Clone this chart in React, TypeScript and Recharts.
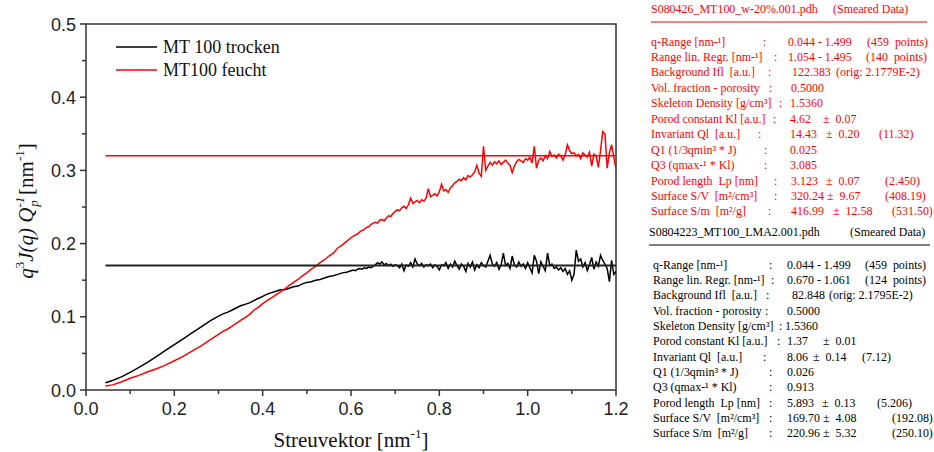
import React from "react";
import { LineChart, Line, XAxis, YAxis, ReferenceArea, ReferenceLine, Legend } from "recharts";

// q grid (nm^-1)
const Q = [
  0.044, 0.06, 0.08, 0.1, 0.12, 0.14, 0.16, 0.18, 0.2, 0.22, 0.24, 0.26, 0.28, 0.3,
  0.31, 0.32, 0.33, 0.34, 0.35, 0.36, 0.37, 0.38, 0.39, 0.4,
  0.41, 0.42, 0.43, 0.44, 0.45, 0.46, 0.47, 0.48, 0.49, 0.5,
  0.51, 0.52, 0.53, 0.54, 0.55, 0.56, 0.57, 0.58, 0.59, 0.6,
  0.605, 0.61, 0.615, 0.62, 0.625, 0.63, 0.635, 0.64, 0.645, 0.65,
  0.655, 0.66, 0.665, 0.67, 0.675, 0.68, 0.685, 0.69, 0.695, 0.7,
  0.705, 0.71, 0.715, 0.72, 0.725, 0.73, 0.735, 0.74, 0.745, 0.75,
  0.755, 0.76, 0.765, 0.77, 0.775, 0.78, 0.785, 0.79, 0.795, 0.8,
  0.805, 0.81, 0.815, 0.82, 0.825, 0.83, 0.835, 0.84, 0.845, 0.85,
  0.855, 0.86, 0.865, 0.87, 0.875, 0.88, 0.885, 0.89, 0.895, 0.9,
  0.905, 0.91, 0.915, 0.92, 0.925, 0.93, 0.935, 0.94, 0.945, 0.95,
  0.955, 0.96, 0.965, 0.97, 0.975, 0.98, 0.985, 0.99, 0.995, 1.0,
  1.005, 1.01, 1.015, 1.02, 1.025, 1.03, 1.035, 1.04, 1.045, 1.05,
  1.055, 1.06, 1.065, 1.07, 1.075, 1.08, 1.085, 1.09, 1.095, 1.1,
  1.105, 1.11, 1.115, 1.12, 1.125, 1.13, 1.135, 1.14, 1.145, 1.15,
  1.155, 1.16, 1.165, 1.17, 1.175, 1.18, 1.185, 1.19, 1.195, 1.2,
];

// MT 100 trocken
const TROCKEN = [
  0.01, 0.013, 0.018, 0.024, 0.031, 0.038, 0.046, 0.054, 0.062, 0.07, 0.078, 0.086, 0.094, 0.101,
  0.104, 0.106, 0.109, 0.112, 0.115, 0.117, 0.119, 0.122, 0.125, 0.128,
  0.131, 0.133, 0.135, 0.137, 0.137, 0.139, 0.141, 0.142, 0.145, 0.147,
  0.148, 0.15, 0.151, 0.153, 0.155, 0.156, 0.158, 0.16, 0.161, 0.163,
  0.164, 0.163, 0.165, 0.166, 0.165, 0.167, 0.166, 0.168, 0.167, 0.169,
  0.171, 0.174, 0.172, 0.175, 0.171, 0.173, 0.17, 0.172, 0.169, 0.171,
  0.17, 0.167, 0.172, 0.163, 0.171, 0.169, 0.174, 0.168, 0.179, 0.172,
  0.17, 0.173, 0.168, 0.171, 0.17, 0.172, 0.167, 0.171, 0.169, 0.164,
  0.171, 0.17, 0.174, 0.166, 0.172, 0.168, 0.176, 0.17, 0.165, 0.172,
  0.169, 0.162, 0.173, 0.168, 0.175, 0.164, 0.171, 0.167, 0.174, 0.17,
  0.168, 0.176, 0.184, 0.172, 0.169, 0.174, 0.165, 0.171, 0.187, 0.17,
  0.173, 0.166, 0.183, 0.171, 0.168, 0.175, 0.169, 0.172, 0.166, 0.174,
  0.167, 0.16, 0.184, 0.176, 0.159, 0.175, 0.169, 0.163, 0.187, 0.17,
  0.172, 0.166, 0.168, 0.164, 0.167, 0.162, 0.166, 0.158, 0.163, 0.15,
  0.158, 0.191, 0.176, 0.179, 0.168, 0.174, 0.163, 0.171, 0.181, 0.165,
  0.175, 0.169, 0.184, 0.177, 0.172, 0.166, 0.148, 0.177, 0.158, 0.162,
];

// MT100 feucht
const FEUCHT = [
  0.0055, 0.007, 0.011, 0.016, 0.02, 0.025, 0.029, 0.034, 0.04, 0.046, 0.053, 0.06, 0.068, 0.076,
  0.08, 0.083, 0.087, 0.091, 0.095, 0.099, 0.103, 0.109, 0.113, 0.118,
  0.122, 0.126, 0.13, 0.134, 0.138, 0.143, 0.147, 0.151, 0.156, 0.16,
  0.165, 0.169, 0.174, 0.178, 0.183, 0.187, 0.194, 0.198, 0.203, 0.208,
  0.21, 0.212, 0.213, 0.216, 0.218, 0.219, 0.222, 0.223, 0.226, 0.228,
  0.229, 0.228, 0.232, 0.233, 0.231, 0.235, 0.238, 0.237, 0.241, 0.244,
  0.246, 0.245, 0.249, 0.251, 0.248, 0.253, 0.262, 0.255, 0.257, 0.259,
  0.256, 0.26, 0.258, 0.262, 0.275, 0.264, 0.266, 0.268, 0.265, 0.271,
  0.281, 0.272, 0.274, 0.27, 0.276, 0.279, 0.283, 0.285, 0.288, 0.286,
  0.29, 0.287, 0.293, 0.291, 0.294, 0.298, 0.307, 0.296, 0.292, 0.333,
  0.3, 0.306, 0.311, 0.307, 0.312, 0.309, 0.313, 0.308, 0.311, 0.314,
  0.31, 0.307, 0.297, 0.306, 0.312, 0.315, 0.313, 0.311, 0.316, 0.314,
  0.318, 0.31, 0.333, 0.303, 0.314, 0.317, 0.313, 0.32, 0.316, 0.326,
  0.319, 0.321, 0.317, 0.322, 0.32, 0.314, 0.322, 0.335, 0.327, 0.323,
  0.324, 0.32, 0.322, 0.316, 0.324, 0.321, 0.318, 0.325, 0.306, 0.322,
  0.32, 0.304, 0.327, 0.353, 0.35, 0.303, 0.324, 0.335, 0.318, 0.302,
];

// Porod plateau levels and fitted q-range
const PLATEAU_TROCKEN = 0.17;
const PLATEAU_FEUCHT = 0.32;
const FIT_RANGE = [0.044, 1.2];

const X_TICKS = [0, 0.1, 0.2, 0.3, 0.4, 0.5, 0.6, 0.7, 0.8, 0.9, 1.0, 1.1, 1.2];
const Y_TICKS = [0, 0.05, 0.1, 0.15, 0.2, 0.25, 0.3, 0.35, 0.4, 0.45, 0.5];

const SAMPLE_A_TITLE = ["S080426_MT100_w-20%.001.pdh", "(Smeared Data)"];
const SAMPLE_A_ROWS = [
  ["q-Range [nm-¹]", ":", "0.044 - 1.499", "", "(459  points)"],
  ["Range lin. Regr. [nm-¹]", ":", "1.054 - 1.495", "", "(140  points)"],
  ["Background Ifl  [a.u.]", ":", "122.383", "", "(orig: 2.1779E-2)"],
  ["Vol. fraction - porosity", ":", "0.5000", "", ""],
  ["Skeleton Density [g/cm³]", ":", "1.5360", "", ""],
  ["Porod constant Kl [a.u.]", ":", "4.62", "±  0.07", ""],
  ["Invariant Ql  [a.u.]", ":", "14.43", "±  0.20", "(11.32)"],
  ["Q1 (1/3qmin³ * J)", ":", "0.025", "", ""],
  ["Q3 (qmax-¹ * Kl)", ":", "3.085", "", ""],
  ["Porod length  Lp [nm]", ":", "3.123", "±  0.07", "(2.450)"],
  ["Surface S/V  [m²/cm³]", ":", "320.24", "±  9.67", "(408.19)"],
  ["Surface S/m  [m²/g]", ":", "416.99", "±  12.58", "(531.50)"],
];

const SAMPLE_B_TITLE = ["S0804223_MT100_LMA2.001.pdh", "(Smeared Data)"];
const SAMPLE_B_ROWS = [
  ["q-Range [nm-¹]", ":", "0.044 - 1.499", "", "(459  points)"],
  ["Range lin. Regr. [nm-¹]", ":", "0.670 - 1.061", "", "(124  points)"],
  ["Background Ifl  [a.u.]", ":", "82.848", "", "(orig: 2.1795E-2)"],
  ["Vol. fraction - porosity", ":", "0.5000", "", ""],
  ["Skeleton Density [g/cm³]", ":", "1.5360", "", ""],
  ["Porod constant Kl [a.u.]", ":", "1.37", "±  0.01", ""],
  ["Invariant Ql  [a.u.]", ":", "8.06", "±  0.14", "(7.12)"],
  ["Q1 (1/3qmin³ * J)", ":", "0.026", "", ""],
  ["Q3 (qmax-¹ * Kl)", ":", "0.913", "", ""],
  ["Porod length  Lp [nm]", ":", "5.893", "±  0.13", "(5.206)"],
  ["Surface S/V  [m²/cm³]", ":", "169.70", "±  4.08", "(192.08)"],
  ["Surface S/m  [m²/g]", ":", "220.96", "±  5.32", "(250.10)"],
];

// column x positions per row: [label, colon, value, ±, paren]
const SAMPLE_A_COLS = [
  [651, 763, 788, 0, 867],
  [651, 774, 788, 0, 866],
  [651, 768, 792, 0, 836],
  [651, 769, 791, 0, 0],
  [651, 779, 790, 0, 0],
  [651, 773, 790, 823, 0],
  [651, 758, 790, 826, 879],
  [651, 764, 790, 0, 0],
  [651, 764, 790, 0, 0],
  [651, 774, 791, 826, 885],
  [651, 774, 791, 827, 885],
  [651, 768, 791, 833, 892],
];
const SAMPLE_B_COLS = [
  [653, 769, 787, 0, 865],
  [653, 771, 787, 0, 865],
  [653, 766, 792, 0, 829],
  [653, 765, 787, 0, 0],
  [653, 779, 785, 0, 0],
  [653, 777, 787, 823, 0],
  [653, 763, 787, 813, 862],
  [653, 769, 787, 0, 0],
  [653, 769, 787, 0, 0],
  [653, 769, 787, 822, 877],
  [653, 769, 787, 823, 892],
  [653, 769, 787, 823, 892],
];

const W = 934;
const H = 452;
const PLOT_LEFT = 86;
const PLOT_RIGHT = 616;
const PLOT_TOP = 24;
const PLOT_BOTTOM = 390;
const AXIS_COLOR = "#333";
const SANS = "'Liberation Sans', Arial, sans-serif";
const SERIF = "'Liberation Serif', 'Times New Roman', serif";

const data = Q.map((q, i) => ({ q, trocken: TROCKEN[i], feucht: FEUCHT[i] }));

function XTick(props: any) {
  const { x, y, payload } = props;
  const v = payload.value as number;
  const major = Math.round(v * 10) % 2 === 0;
  return (
    <g>
      <line x1={x} x2={x} y1={y} y2={y + (major ? 6 : 4)} stroke={AXIS_COLOR} strokeWidth={1.5} />
      {major && (
        <text x={x} y={y + 25} textAnchor="middle" fontFamily={SANS} fontSize={18} fill="#222">
          {v.toFixed(1)}
        </text>
      )}
    </g>
  );
}

function YTick(props: any) {
  const { x, y, payload } = props;
  const v = payload.value as number;
  const major = Math.round(v * 100) % 10 === 0;
  return (
    <g>
      <line x1={x - (major ? 6 : 4)} x2={x} y1={y} y2={y} stroke={AXIS_COLOR} strokeWidth={1.5} />
      {major && (
        <text x={x - 10} y={y + 6.5} textAnchor="end" fontFamily={SANS} fontSize={18} fill="#222">
          {v.toFixed(1)}
        </text>
      )}
    </g>
  );
}

function XTitle() {
  return (
    <text x={351} y={447} textAnchor="middle" fontFamily={SERIF} fontSize={21} fill="#111">
      Streuvektor [nm
      <tspan fontSize={13} dy={-9}>-1</tspan>
      <tspan dy={9}>]</tspan>
    </text>
  );
}

function YTitle() {
  return (
    <text transform="translate(33,211) rotate(-90)" textAnchor="middle" fontFamily={SERIF} fontSize={21} fill="#111">
      <tspan fontStyle="italic">q</tspan>
      <tspan fontSize={13} dy={-9}>3</tspan>
      <tspan fontStyle="italic" dy={9}>J(q) Q</tspan>
      <tspan fontSize={13} fontStyle="italic" dy={-9}>-1</tspan>
      <tspan fontSize={13} fontStyle="italic" dx={-10} dy={14}>p</tspan>
      <tspan dy={-5}> [nm</tspan>
      <tspan fontSize={13} dy={-9}>-1</tspan>
      <tspan dy={9}>]</tspan>
    </text>
  );
}

function LegendBox(props: any) {
  const items = (props.payload || []).filter((p: any) => p.value);
  return (
    <svg width={200} height={50}>
      {items.map((p: any, i: number) => (
        <g key={p.value}>
          <line x1={0} x2={41} y1={11 + i * 23} y2={11 + i * 23} stroke={p.color} strokeWidth={1.5} />
          <text x={47} y={17 + i * 23} fontFamily={SERIF} fontSize={18} fill="#111">
            {p.value}
          </text>
        </g>
      ))}
    </svg>
  );
}

function InfoBlock({
  title,
  titleX,
  rows,
  cols,
  top,
  step,
  color,
  ruleX,
}: {
  title: string[];
  titleX: number[];
  rows: string[][];
  cols: number[][];
  top: number;
  step: number;
  color: string;
  ruleX: number[];
}) {
  const sx = 0.92;
  const cell = (t: string, x: number, y: number, key: string) =>
    t && x ? (
      <text key={key} transform={`translate(${x},${y}) scale(${sx},1)`} fontFamily={SERIF} fontSize={13} fill={color} style={{ whiteSpace: "pre" }} xmlSpace="preserve">
        {t}
      </text>
    ) : null;
  return (
    <g>
      {cell(title[0], titleX[0], top - 28, "t0")}
      {cell(title[1], titleX[1], top - 28, "t1")}
      <line x1={ruleX[0]} x2={ruleX[1]} y1={top - 19} y2={top - 19} stroke={color} strokeWidth={1} />
      {rows.map((r, i) => (
        <g key={i}>{r.map((t, j) => cell(t, cols[i][j], top + 4.5 + i * step, `${i}-${j}`))}</g>
      ))}
    </g>
  );
}

export default function App() {
  return (
    <div style={{ position: "absolute", left: 0, top: 0, width: W, height: H, background: "#fff" }}>
      <LineChart
        width={W}
        height={H}
        data={data}
        margin={{ top: PLOT_TOP, right: W - PLOT_RIGHT, left: PLOT_LEFT - 40, bottom: H - PLOT_BOTTOM - 30 }}
      >
        <XAxis
          dataKey="q"
          type="number"
          domain={[0, 1.2]}
          ticks={X_TICKS}
          interval={0}
          allowDataOverflow
          axisLine={false}
          tickLine={false}
          tickSize={0}
          tickMargin={0}
          height={30}
          tick={<XTick />}
          label={<XTitle />}
        />
        <YAxis
          type="number"
          domain={[0, 0.5]}
          ticks={Y_TICKS}
          interval={0}
          allowDataOverflow
          axisLine={false}
          tickLine={false}
          tickSize={0}
          tickMargin={0}
          width={40}
          tick={<YTick />}
          label={<YTitle />}
        />
        <ReferenceArea x1={0} x2={1.2} y1={0} y2={0.5} fill="none" stroke={AXIS_COLOR} strokeWidth={1.5} ifOverflow="visible" />
        <ReferenceLine
          segment={[{ x: FIT_RANGE[0], y: PLATEAU_FEUCHT }, { x: FIT_RANGE[1], y: PLATEAU_FEUCHT }]}
          stroke="#ff0000"
          strokeWidth={1.5}
        />
        <Line
          dataKey="trocken"
          name="MT 100 trocken"
          stroke="#000"
          strokeWidth={1.5}
          dot={false}
          type="linear"
          isAnimationActive={false}
        />
        <Line
          dataKey="feucht"
          name="MT100 feucht"
          stroke="#ff0000"
          strokeWidth={1.5}
          dot={false}
          type="linear"
          isAnimationActive={false}
        />
        <ReferenceLine
          segment={[{ x: FIT_RANGE[0], y: PLATEAU_TROCKEN }, { x: FIT_RANGE[1], y: PLATEAU_TROCKEN }]}
          stroke="#222"
          strokeWidth={2}
        />
        <Legend
          layout="vertical"
          align="center"
          verticalAlign="middle"
          content={<LegendBox />}
          wrapperStyle={{ left: 116, top: 36, width: 200, height: 50 }}
        />
      </LineChart>
      <svg width={W} height={H} style={{ position: "absolute", left: 0, top: 0, pointerEvents: "none" }}>
        <InfoBlock
          title={SAMPLE_A_TITLE}
          titleX={[651, 833]}
          rows={SAMPLE_A_ROWS}
          cols={SAMPLE_A_COLS}
          top={41}
          step={15.45}
          color="#ff0000"
          ruleX={[651, 927]}
        />
        <InfoBlock
          title={SAMPLE_B_TITLE}
          titleX={[649, 850]}
          rows={SAMPLE_B_ROWS}
          cols={SAMPLE_B_COLS}
          top={264}
          step={15.36}
          color="#000"
          ruleX={[649, 930]}
        />
      </svg>
    </div>
  );
}
